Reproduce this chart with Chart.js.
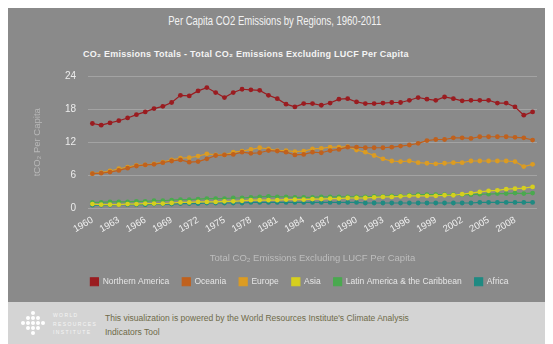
<!DOCTYPE html>
<html>
<head>
<meta charset="utf-8">
<script src="https://cdn.jsdelivr.net/npm/chart.js@4/dist/chart.umd.min.js"></script>
<style>
  html, body { margin: 0; padding: 0; background: #fff; width: 553px; height: 344px; overflow: hidden; font-family: "Liberation Sans", Arial, sans-serif; }
  #panel { position: absolute; left: 8px; top: 8px; width: 537px; height: 294px; background: #8a8a8a; overflow: hidden; }
  #title { position: absolute; left: 0; top: 5px; width: 537px; text-align: center; color: #f2f2f2; font: 13px "Liberation Sans", Arial, sans-serif; transform: scaleX(0.73); transform-origin: 262px 0; }
  #subtitle { position: absolute; left: 75px; top: 41px; color: #f4f4f4; font: bold 9px "Liberation Sans", Arial, sans-serif; letter-spacing: 0.25px; white-space: nowrap; }
  #chartBox { position: absolute; left: 0; top: 54px; width: 584px; height: 238px; }
  #footer { position: absolute; left: 8px; top: 302px; width: 537px; height: 42px; background: #d4d4d4; }
  #footer .note { position: absolute; left: 97px; top: 9px; color: #6e6a48; font: 8.5px "Liberation Sans", Arial, sans-serif; line-height: 14px; }
  #footer .org { position: absolute; left: 45px; top: 9px; color: #f4f4f4; font: 5px "Liberation Sans", Arial, sans-serif; letter-spacing: 1.4px; line-height: 8.5px; }
  #footer svg { position: absolute; left: 11px; top: 8px; }
</style>
</head>
<body>
<div id="panel">
  <div id="title">Per Capita CO2 Emissions by Regions, 1960-2011</div>
  <div id="subtitle">CO₂ Emissions Totals - Total CO₂ Emissions Excluding LUCF Per Capita</div>
  <div id="chartBox"><canvas id="myChart"></canvas></div>
</div>
<div id="footer">
  <svg width="28" height="26" viewBox="0 0 28 26">
    <g fill="#ffffff">
      <circle cx="14" cy="3" r="2"/>
      <circle cx="9" cy="8" r="2"/><circle cx="14" cy="8" r="2"/><circle cx="19" cy="8" r="2"/>
      <circle cx="4" cy="13" r="2"/><circle cx="9" cy="13" r="2"/><circle cx="14" cy="13" r="2"/><circle cx="19" cy="13" r="2"/><circle cx="24" cy="13" r="2"/>
      <circle cx="9" cy="18" r="2"/><circle cx="14" cy="18" r="2"/><circle cx="19" cy="18" r="2"/>
      <circle cx="14" cy="23" r="2"/>
    </g>
  </svg>
  <div class="org">WORLD<br>RESOURCES<br>INSTITUTE</div>
  <div class="note">This visualization is powered by the World Resources Institute's Climate Analysis<br>Indicators Tool</div>
</div>

<script>
var years = [1960,1961,1962,1963,1964,1965,1966,1967,1968,1969,
             1970,1971,1972,1973,1974,1975,1976,1977,1978,1979,
             1980,1981,1982,1983,1984,1985,1986,1987,1988,1989,
             1990,1991,1992,1993,1994,1995,1996,1997,1998,1999,
             2000,2001,2002,2003,2004,2005,2006,2007,2008,2009,
             2010];

var northernAmerica = [15.4,15.1,15.5,15.9,16.4,17.0,17.5,18.1,18.5,19.2,
                       20.5,20.4,21.3,21.9,21.0,20.1,21.0,21.6,21.5,21.4,
                       20.5,19.9,18.9,18.4,19.0,19.0,18.7,19.1,19.8,19.9,
                       19.3,19.0,19.0,19.1,19.2,19.2,19.6,20.1,19.8,19.6,
                       20.2,19.9,19.5,19.6,19.6,19.6,19.1,19.1,18.4,16.9,
                       17.5];
var oceania = [6.3,6.4,6.6,6.9,7.3,7.7,7.9,8.0,8.3,8.6,
               8.8,8.4,8.5,9.0,9.6,9.7,9.8,10.2,10.0,10.1,
               10.5,10.4,10.2,9.7,9.8,10.2,10.1,10.5,10.7,11.1,
               11.1,11.0,11.0,11.0,11.1,11.3,11.5,11.8,12.3,12.5,
               12.5,12.8,12.8,12.7,13.0,13.0,13.0,13.0,12.9,12.8,
               12.4];
var europe = [6.3,6.5,6.8,7.2,7.5,7.8,7.9,8.1,8.4,8.8,
              9.1,9.2,9.5,9.9,9.7,9.7,10.2,10.4,10.7,11.0,
              10.8,10.5,10.5,10.3,10.4,10.8,10.9,11.1,11.1,11.2,
              10.6,10.2,9.6,9.0,8.6,8.5,8.6,8.3,8.2,8.1,
              8.2,8.3,8.3,8.6,8.6,8.6,8.6,8.6,8.5,7.6,
              8.0];
var asia = [0.8,0.7,0.7,0.7,0.8,0.8,0.9,0.9,0.9,1.0,
            1.1,1.1,1.2,1.2,1.2,1.3,1.3,1.4,1.5,1.5,
            1.5,1.5,1.6,1.6,1.6,1.7,1.7,1.8,1.8,1.9,
            1.9,1.9,2.0,2.1,2.1,2.2,2.3,2.3,2.3,2.3,
            2.4,2.4,2.6,2.8,3.0,3.2,3.3,3.5,3.6,3.7,
            3.9];
var latinAmerica = [1.1,1.1,1.2,1.2,1.2,1.3,1.3,1.4,1.4,1.5,
                    1.6,1.6,1.7,1.8,1.8,1.8,1.9,1.9,2.0,2.1,
                    2.2,2.1,2.1,2.0,2.0,2.0,2.1,2.1,2.1,2.1,
                    2.1,2.1,2.2,2.2,2.3,2.3,2.4,2.5,2.5,2.5,
                    2.5,2.5,2.5,2.5,2.6,2.6,2.7,2.7,2.8,2.7,
                    2.8];
var africa = [0.6,0.6,0.6,0.7,0.7,0.7,0.7,0.8,0.8,0.8,
              0.9,0.9,0.9,1.0,1.0,1.0,1.0,1.0,1.1,1.1,
              1.1,1.1,1.1,1.1,1.1,1.1,1.1,1.1,1.1,1.1,
              1.1,1.0,1.0,1.0,1.0,1.0,1.0,1.0,1.0,1.0,
              1.0,1.0,1.0,1.0,1.1,1.1,1.1,1.1,1.1,1.1,
              1.1];

var yTicks = [0, 6, 12, 18, 24];

function serie(label, data, color) {
    return {
        label: label,
        data: data,
        borderColor: color,
        backgroundColor: color,
        pointBackgroundColor: color,
        pointBorderColor: color,
        borderWidth: 1.2,
        pointRadius: 2.4,
        pointBorderWidth: 0,
        tension: 0
    };
}

// nudge the legend row a bit to the right of the canvas centre
var legendShift = {
    id: 'legendShift',
    afterLayout: function(chart) {
        chart.legend.left += 27;
        chart.legend.right += 27;
    }
};

var ctx = document.getElementById('myChart');
var myChart = new Chart(ctx, {
    type: 'line',
    data: {
        labels: years,
        datasets: [
            serie('Northern America', northernAmerica, '#9a1c20'),
            serie('Oceania', oceania, '#c0611d'),
            serie('Europe', europe, '#dc9c22'),
            serie('Asia', asia, '#d6cf1e'),
            serie('Latin America & the Caribbean', latinAmerica, '#4aa94f'),
            serie('Africa', africa, '#1f8a82')
        ]
    },
    plugins: [legendShift],
    options: {
        responsive: true,
        maintainAspectRatio: false,
        animation: false,
        layout: { padding: { top: 14, right: 55, left: 0, bottom: 4 } },
        plugins: {
            tooltip: { enabled: false },
            legend: {
                position: 'bottom',
                labels: {
                    boxWidth: 8,
                    boxHeight: 8,
                    padding: 13,
                    color: '#e6e6e6',
                    font: { size: 8.5, family: 'Liberation Sans' }
                }
            }
        },
        scales: {
            x: {
                offset: true,
                grid: { display: false, drawTicks: false },
                border: { display: false },
                afterFit: function(scale) { scale.height = 56; },
                ticks: {
                    autoSkip: false,
                    minRotation: 30,
                    maxRotation: 30,
                    padding: 6,
                    color: '#f0f0f0',
                    font: { size: 9.5, family: 'Liberation Sans' },
                    callback: function(value, index) {
                        return index % 3 === 0 ? this.getLabelForValue(value) : '';
                    }
                },
                title: {
                    display: true,
                    text: 'Total CO₂ Emissions Excluding LUCF Per Capita',
                    color: '#bdbdbd',
                    font: { size: 9.5, family: 'Liberation Sans' },
                    padding: { top: 0, bottom: 0 }
                }
            },
            y: {
                min: 0,
                max: 24,
                afterFit: function(scale) { scale.width = 80; },
                afterBuildTicks: function(scale) {
                    scale.ticks = yTicks.map(function(v) { return { value: v }; });
                },
                grid: { color: '#a3a3a3', lineWidth: 1, drawTicks: true, tickLength: 10, tickColor: 'rgba(0,0,0,0)' },
                border: { display: false },
                ticks: {
                    padding: 2,
                    color: '#ececec',
                    font: { size: 10, family: 'Liberation Sans' }
                },
                title: {
                    display: true,
                    text: 'tCO₂ Per Capita',
                    color: '#b8b8b8',
                    font: { size: 9.5, family: 'Liberation Sans' },
                    padding: { top: 24, bottom: 0 }
                }
            }
        }
    }
});
</script>
</body>
</html>
